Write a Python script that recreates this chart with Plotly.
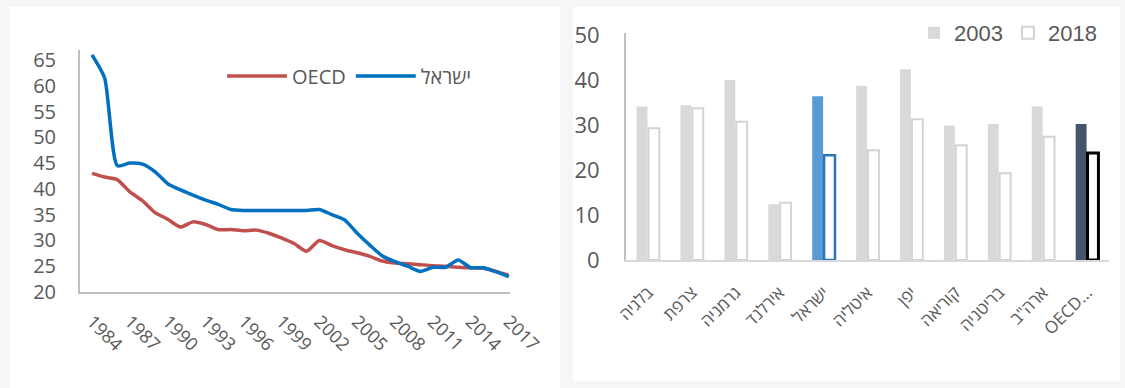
import plotly.graph_objects as go

# ---------------- data ----------------
years = list(range(1984, 2018))
israel = [66, 61.5, 44.5, 45, 44.8, 43.3, 41, 39.8, 38.8, 37.8, 37, 36, 35.8, 35.8,
          35.8, 35.8, 35.8, 35.8, 36, 35, 34, 31.4, 29.1, 27, 25.9, 25, 24, 24.8,
          24.8, 26.2, 24.7, 24.7, 23.9, 23]
oecd_line = [43, 42.3, 41.8, 39.4, 37.7, 35.4, 34.1, 32.6, 33.6, 33.1, 32.1, 32.1, 31.9,
             32, 31.4, 30.5, 29.4, 27.9, 30, 29, 28.2, 27.6, 26.9, 26, 25.6, 25.5, 25.3,
             25.1, 25, 24.8, 24.7, 24.6, 24, 23.2]
year_ticks = list(range(1984, 2018, 3))

countries = ["בלגיה", "צרפת", "גרמניה", "אירלנד", "ישראל", "איטליה", "יפן",
             "קוריאה", "בריטניה", 'ארה"ב', "OECD..."]
v2003 = [34.1, 34.4, 40, 12.4, 36.4, 38.7, 42.4, 29.9, 30.2, 34.1, 30.2]
v2018 = [29.3, 33.7, 30.7, 12.7, 23.3, 24.4, 31.3, 25.5, 19.3, 27.4, 23.8]
left_yticks = [20, 25, 30, 35, 40, 45, 50, 55, 60, 65]
right_yticks = [0, 10, 20, 30, 40, 50]

# ---------------- styles ----------------
W, H = 1125, 388
GRAY_TXT = "#595959"
AX = "#bfbfbf"
c2003 = ["#d9d9d9"] * len(countries)
c2003[countries.index("ישראל")] = "#5b9bd5"
c2003[-1] = "#44546a"
l2018 = ["#d3d3d3"] * len(countries)
l2018[countries.index("ישראל")] = "#2e75b6"
l2018[-1] = "#000000"
w2018 = [2] * len(countries)
w2018[countries.index("ישראל")] = 2.5
w2018[-1] = 3

def px_x(p):
    return p / W

def px_y(p):
    return (H - p) / H

fig = go.Figure()

fig.add_trace(go.Scatter(x=years, y=oecd_line, mode="lines", name="OECD",
                         line=dict(color="#c0504d", width=3.5, shape="spline", smoothing=0.6),
                         xaxis="x", yaxis="y", legend="legend"))
fig.add_trace(go.Scatter(x=years, y=israel, mode="lines", name="ישראל",
                         line=dict(color="#0070c0", width=3.5, shape="spline", smoothing=0.6),
                         xaxis="x", yaxis="y", legend="legend"))

fig.add_trace(go.Bar(x=countries, y=v2003, name="2003",
                     marker=dict(color=c2003, line=dict(width=0)),
                     xaxis="x2", yaxis="y2", legend="legend2"))
fig.add_trace(go.Bar(x=countries, y=v2018, name="2018",
                     marker=dict(color="white", line=dict(color=l2018, width=w2018)),
                     xaxis="x2", yaxis="y2", legend="legend2"))

font_main = "Open Sans, Noto Sans, sans-serif"

fig.update_layout(
    width=W, height=H,
    margin=dict(l=0, r=0, t=0, b=0, autoexpand=False),
    paper_bgcolor="#f6f6f6",
    plot_bgcolor="white",
    font=dict(family=font_main, color=GRAY_TXT),
    barmode="group", bargap=0.46, bargroupgap=0.08,
    shapes=[
        dict(type="rect", xref="paper", yref="paper", x0=px_x(10), x1=px_x(560),
             y0=px_y(388), y1=px_y(7), fillcolor="white", line=dict(width=0), layer="below"),
        dict(type="rect", xref="paper", yref="paper", x0=px_x(573), x1=px_x(1120),
             y0=px_y(381), y1=px_y(7), fillcolor="white", line=dict(width=0), layer="below"),
    ],
    xaxis=dict(domain=[px_x(80), px_x(510)], range=[1983.05, 2017.1],
               tickvals=year_ticks, tickangle=45, showgrid=False, zeroline=False,
               showline=True, linecolor=AX, linewidth=2, ticks="", automargin=False,
               tickfont=dict(size=18, color=GRAY_TXT), ticklabelstandoff=10, anchor="y"),
    yaxis=dict(domain=[px_y(292), px_y(50)], range=[20, 20 + (292 - 50) / 5.156],
               tickvals=left_yticks, showgrid=False, zeroline=False, automargin=False,
               showline=True, linecolor=AX, linewidth=2, ticks="",
               tickfont=dict(size=20, color=GRAY_TXT), ticklabelstandoff=18, anchor="x"),
    xaxis2=dict(domain=[px_x(626), px_x(1109)], showgrid=False, zeroline=False,
                showline=True, linecolor="#d9d9d9", linewidth=2, ticks="", automargin=False,
                tickangle=-45, tickfont=dict(size=17, color=GRAY_TXT),
                ticklabelstandoff=14, anchor="y2"),
    yaxis2=dict(domain=[px_y(260), px_y(33)], range=[0, (260 - 33) / 4.5],
                tickvals=right_yticks, showgrid=False, zeroline=False, automargin=False,
                showline=True, linecolor=AX, linewidth=2, ticks="",
                tickfont=dict(size=22, color=GRAY_TXT), ticklabelstandoff=20, anchor="x2"),
    legend=dict(orientation="h", x=px_x(222), y=px_y(76), xanchor="left", yanchor="middle",
                bgcolor="rgba(0,0,0,0)", font=dict(size=20, color=GRAY_TXT),
                itemwidth=60, traceorder="normal"),
    legend2=dict(orientation="h", x=px_x(914), y=px_y(33), xanchor="left", yanchor="middle",
                 bgcolor="rgba(0,0,0,0)",
                 font=dict(size=22, color=GRAY_TXT, family="Liberation Sans, Arial, sans-serif"),
                 itemwidth=30, traceorder="normal"),
)

fig.write_html("out.html")
